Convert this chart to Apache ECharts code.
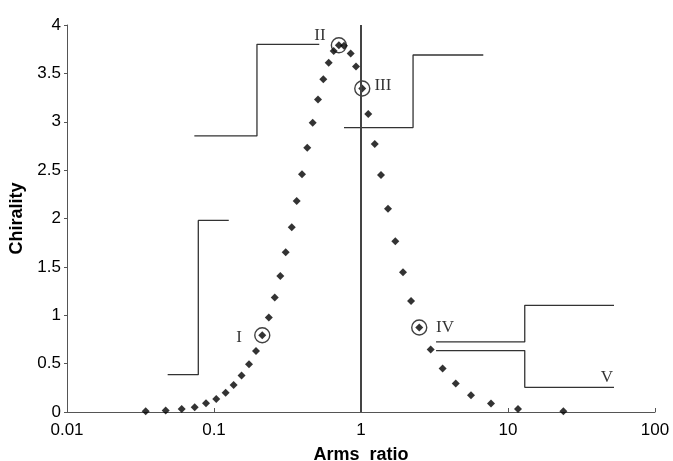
<!DOCTYPE html>
<html>
<head>
    <meta charset="utf-8" />
    <title>Chirality vs arms ratio</title>
    <script src="https://cdn.jsdelivr.net/npm/echarts@6/dist/echarts.min.js"></script>
    <style>
        html, body { margin: 0; padding: 0; background: #fff; }
        #main { width: 673px; height: 461px; }
    </style>
</head>
<body>
    <div id="main"></div>
    <script>
        // arms ratio (log x) and chirality for each computed point
        var ratio = [0.0343, 0.0469, 0.0603, 0.0739, 0.0882, 0.1036, 0.120, 0.136, 0.154, 0.173,
            0.193, 0.213, 0.236, 0.259, 0.2825, 0.3075, 0.338, 0.365, 0.397, 0.431,
            0.469, 0.510, 0.554, 0.603, 0.652, 0.707, 0.766, 0.851, 0.925, 1.02,
            1.12, 1.24, 1.368, 1.526, 1.711, 1.93, 2.19, 2.49, 2.98, 3.59,
            4.41, 5.6, 7.66, 11.7, 23.8];
        var chirality = [0.007, 0.015, 0.03, 0.05, 0.09, 0.134, 0.20, 0.28, 0.376, 0.493,
            0.63, 0.793, 0.976, 1.183, 1.406, 1.652, 1.91, 2.18, 2.458, 2.73,
            2.99, 3.23, 3.44, 3.61, 3.73, 3.79, 3.785, 3.706, 3.57, 3.344,
            3.08, 2.77, 2.45, 2.10, 1.765, 1.445, 1.148, 0.873, 0.645, 0.449,
            0.294, 0.173, 0.087, 0.031, 0.007];
        // which points are circled
        var circledIdx = [11, 25, 29, 37];

        // molecule sketches (step outlines)
        var molI = [[0.0484, 0.386], [0.0782, 0.386], [0.0782, 1.98], [0.126, 1.98]];
        var molII = [[0.0735, 2.854], [0.196, 2.854], [0.196, 3.80], [0.52, 3.80]];
        var molIII = [[0.766, 2.94], [2.26, 2.94], [2.26, 3.69], [6.79, 3.69]];
        var molIV = [[3.24, 0.724], [13.0, 0.724], [13.0, 1.103], [52.6, 1.103]];
        var molV = [[3.24, 0.635], [13.0, 0.635], [13.0, 0.255], [52.6, 0.255]];
        var mirror = [[1, 0], [1, 4]];

        // roman numeral labels
        var tagNames = ['I', 'II', 'III', 'IV', 'V'];
        var tagX = [0.148, 0.526, 1.41, 3.73, 47.1];
        var tagY = [0.77, 3.895, 3.37, 0.876, 0.36];

        var points = ratio.map(function (r, i) { return [r, chirality[i]]; });
        var circled = circledIdx.map(function (i) { return [ratio[i], chirality[i]]; });
        var tags = tagNames.map(function (n, i) { return { name: n, value: [tagX[i], tagY[i]] }; });

        function stepLine(d) {
            return {
                type: 'line', data: d, symbol: 'none', silent: true,
                lineStyle: { color: '#333', width: 1.3 }
            };
        }

        var myChart = echarts.init(document.getElementById('main'), null, { renderer: 'canvas' });
        var option = {
            animation: false,
            backgroundColor: '#fff',
            grid: { left: 67, right: 18, top: 25, bottom: 49, outerBoundsMode: 'none' },
            xAxis: {
                type: 'log',
                logBase: 10,
                min: 0.01,
                max: 100,
                name: 'Arms  ratio',
                nameLocation: 'middle',
                nameGap: 34,
                nameTextStyle: { fontFamily: 'Liberation Sans', fontWeight: 'bold', fontSize: 18, color: '#000' },
                axisLine: { lineStyle: { color: '#555', width: 1 } },
                axisTick: { inside: true, length: 4, lineStyle: { color: '#555' } },
                minorTick: { show: false },
                splitLine: { show: false },
                axisLabel: {
                    margin: 10,
                    fontFamily: 'Liberation Sans', fontSize: 17, color: '#000',
                    formatter: function (v) { return String(+v.toPrecision(3)); }
                }
            },
            yAxis: {
                type: 'value',
                min: 0,
                max: 4,
                interval: 0.5,
                name: 'Chirality',
                nameLocation: 'middle',
                nameGap: 39,
                nameTextStyle: { fontFamily: 'Liberation Sans', fontWeight: 'bold', fontSize: 18, color: '#000' },
                axisLine: { show: true, lineStyle: { color: '#555', width: 1 } },
                axisTick: { show: true, length: 3, lineStyle: { color: '#555' } },
                splitLine: { show: false },
                axisLabel: { margin: 6, fontFamily: 'Liberation Sans', fontSize: 17, color: '#000' }
            },
            series: [
                stepLine(molI),
                stepLine(molII),
                stepLine(molIII),
                stepLine(molIV),
                stepLine(molV),
                {
                    type: 'line', data: mirror, symbol: 'none', silent: true,
                    lineStyle: { color: '#444', width: 2 }
                },
                {
                    type: 'scatter', data: points, symbol: 'diamond', symbolSize: 8, silent: true,
                    itemStyle: { color: '#000' }
                },
                {
                    type: 'scatter', data: circled, symbol: 'circle', symbolSize: 15, silent: true,
                    itemStyle: { color: 'rgba(0,0,0,0)', borderColor: '#111', borderWidth: 1.4 }
                },
                {
                    type: 'scatter', data: tags, symbolSize: 1, silent: true,
                    itemStyle: { color: 'rgba(0,0,0,0)' },
                    label: {
                        show: true, position: 'inside', formatter: '{b}',
                        fontFamily: 'Liberation Serif', fontSize: 17, color: '#000'
                    }
                }
            ]
        };
        myChart.setOption(option);
    </script>
</body>
</html>
